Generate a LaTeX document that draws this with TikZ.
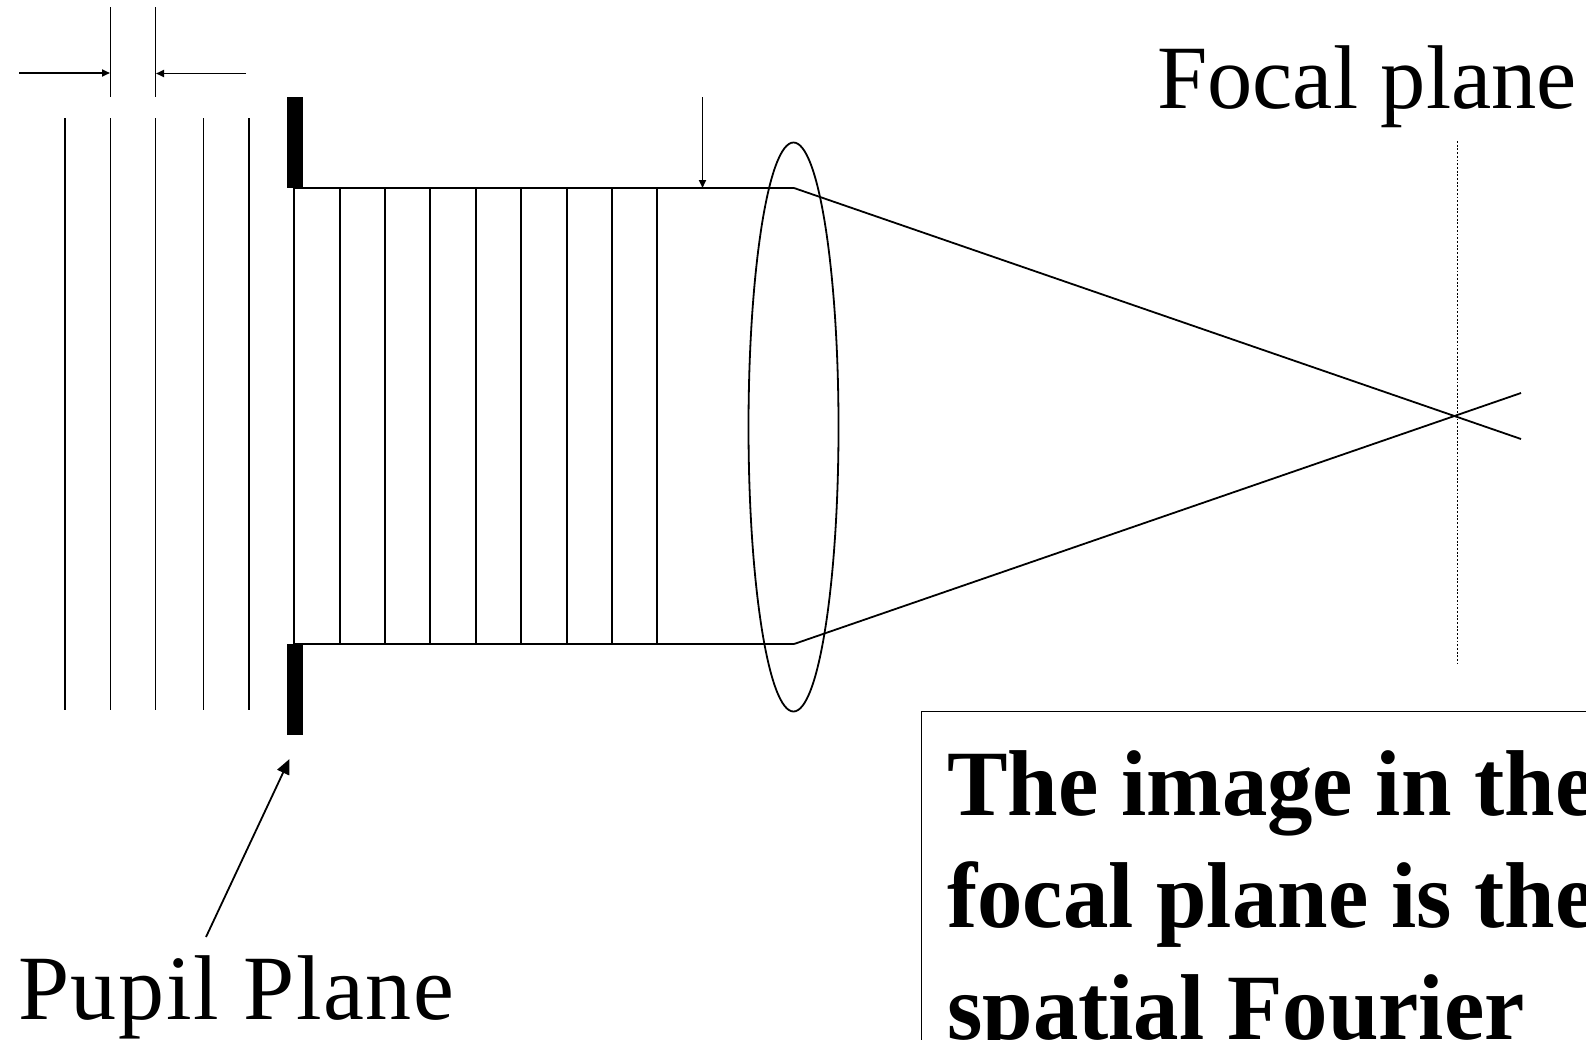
\documentclass[tikz,border=0pt]{standalone}
\usepackage{graphicx}
\usepackage{fontspec}
\setmainfont{Liberation Serif}
\usetikzlibrary{arrows.meta,shapes.geometric}
\newcommand{\tallbold}[1]{\scalebox{1}[1.03]{#1}}
\begin{document}
\begin{tikzpicture}[x=1pt,y=-1pt,
  ln/.style={line width=1.8pt,black},
  arr/.style={ln,-{Triangle[length=8pt,width=7pt]}},
  stopbar/.style={fill=black,draw=none},
  focallab/.style={inner sep=0pt,anchor=base west,font=\fontsize{90.5}{90.5}\selectfont},
  pupillab/.style={inner sep=0pt,anchor=base west,font=\fontsize{92}{92}\selectfont\addfontfeature{LetterSpace=1.7}},
  boldlab/.style={inner sep=0pt,anchor=base west,font=\fontsize{90.8}{90.8}\selectfont\bfseries}]
\useasboundingbox (0,0) rectangle (1586,1039);
\clip (0,0) rectangle (1586,1039);
\foreach \x/\n in {65/a,110.5/b,155.5/c,203.5/d,249/e}{
  \coordinate (w\n t) at (\x,118); \coordinate (w\n b) at (\x,710);
  \draw[ln] (w\n t) -- (w\n b);}
\coordinate (t1) at (110.5,7); \coordinate (t2) at (110.5,97);
\coordinate (t3) at (155.5,7); \coordinate (t4) at (155.5,97);
\draw[ln] (t1) -- (t2); \draw[ln] (t3) -- (t4);
\coordinate (l1) at (19,73); \coordinate (l2) at (110,73);
\coordinate (r1) at (246,73.5); \coordinate (r2) at (156,73.5);
\draw[arr] (l1) -- (l2); \draw[arr] (r1) -- (r2);
\node[stopbar,minimum width=16pt,minimum height=91pt,inner sep=0pt] (topstop) at (294.5,142.5) {};
\node[stopbar,minimum width=16pt,minimum height=91pt,inner sep=0pt] (botstop) at (294.5,689.5) {};
\coordinate (bt) at (294,188); \coordinate (bb) at (294,644);
\coordinate (ft) at (794,188); \coordinate (fb) at (794,644);
\foreach \x in {294,340,385,430,476,521,567,612,657}{
  \draw[ln] (\x,188) -- (\x,644);}
\draw[ln] (bt) -- (ft); \draw[ln] (bb) -- (fb);
\coordinate (e1) at (1521,439); \coordinate (e2) at (1521,393);
\draw[ln] (ft) -- (e1); \draw[ln] (fb) -- (e2);
\node[draw=black,line width=1.8pt,ellipse,minimum width=90pt,minimum height=569pt,inner sep=0pt] (lens) at (793.5,427) {};
\coordinate (d1) at (702.5,97); \coordinate (d2) at (702.5,188);
\draw[arr] (d1) -- (d2);
\coordinate (f1) at (1457.5,141); \coordinate (f2) at (1457.5,664);
\draw[line width=1.9pt,black,dash pattern=on 1.9pt off 1.8pt] (f1) -- (f2);
\node[focallab] (focal) at (1157,108) {Focal plane};
\node[pupillab] (pupil) at (18,1019.5) {Pupil Plane};
\coordinate (p1) at (206,937); \coordinate (p2) at (289.5,759);
\draw[ln,-{Triangle[length=15pt,width=13pt]}] (p1) -- (p2);
\node[draw=black,line width=1.3pt,minimum width=800pt,minimum height=500pt,anchor=north west,inner sep=0pt] (box) at (921,711) {};
\node[boldlab] (l1t) at (947,815) {\tallbold{The image in the}};
\node[boldlab] (l2t) at (947,927) {\tallbold{focal plane is the}};
\node[boldlab] (l3t) at (947,1039) {\tallbold{spatial Fourier}};
\end{tikzpicture}
\end{document}
